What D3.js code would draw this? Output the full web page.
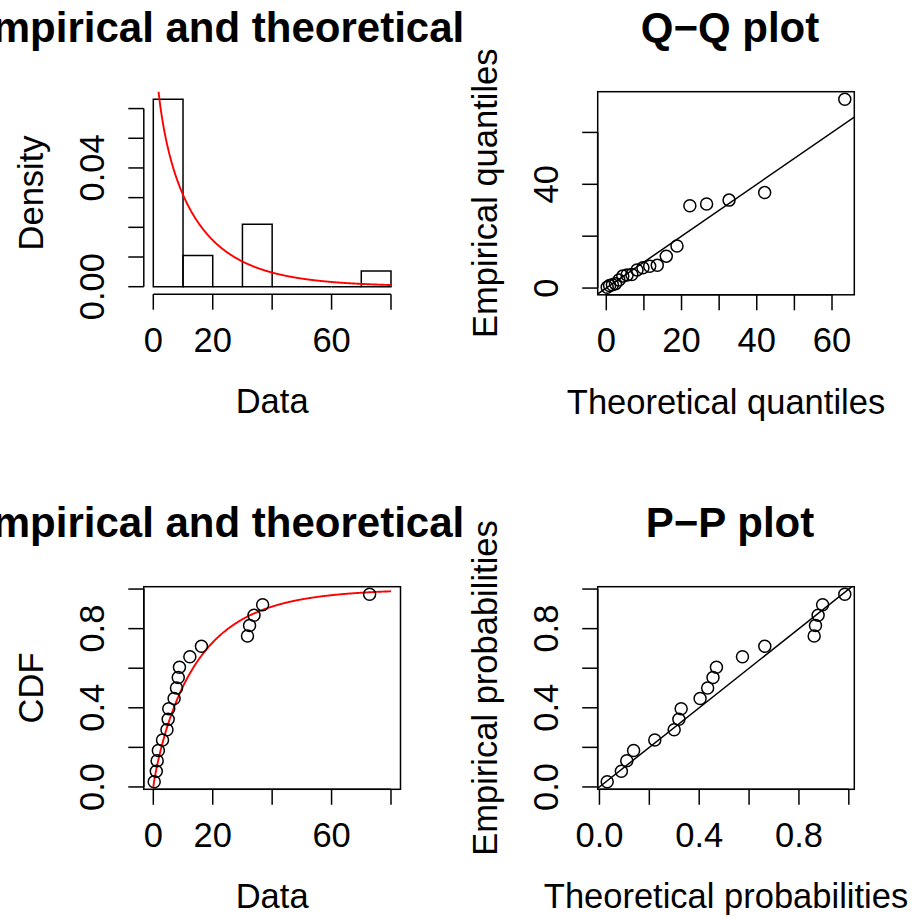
<!DOCTYPE html>
<html><head><meta charset="utf-8">
<script src="https://cdn.jsdelivr.net/npm/d3@7"></script>
<style>
body{margin:0;background:#fff}
svg{display:block}
text{font-family:"Liberation Sans",Arial,Helvetica,sans-serif;fill:#000}
</style>
</head><body>
<svg id="c" width="914" height="921"></svg>
<script>
// ---------------- data ----------------
const obs = [0.3, 1.0, 1.3, 1.7, 3.1, 4.6, 5.0, 5.2, 7.0, 7.8, 8.4, 8.8, 12.3, 16.2, 31.7, 32.4, 33.9, 36.8, 72.8];
const plotPositions = [0.026, 0.079, 0.132, 0.184, 0.237, 0.289, 0.342, 0.395, 0.447, 0.5,
                       0.553, 0.605, 0.658, 0.711, 0.763, 0.816, 0.868, 0.921, 0.974];
const weibullShape = 0.887;
const weibullScale = 14.73;
const histBreaks = [0, 10, 20, 30, 40, 50, 60, 70, 80];
const titles = ["Empirical and theoretical dens.", "Q\u2212Q plot", "Empirical and theoretical CDFs", "P\u2212P plot"];
const xTitles = ["Data", "Theoretical quantiles", "Data", "Theoretical probabilities"];
const yTitles = ["Density", "Empirical quantiles", "CDF", "Empirical probabilities"];
const densTicks = [0, 0.01, 0.02, 0.03, 0.04, 0.05, 0.06];
const densTickLabels = ["0.00", "", "", "", "0.04", "", ""];
const dataTicks = [0, 20, 40, 60, 80];
const dataTickLabels = ["0", "20", "", "60", ""];
const qqXTicks = [0, 10, 20, 30, 40, 50, 60];
const qqXTickLabels = ["0", "", "20", "", "40", "", "60"];
const qqYTicks = [0, 20, 40, 60];
const qqYTickLabels = ["0", "", "40", ""];
const probTicks = [0, 0.2, 0.4, 0.6, 0.8, 1.0];
const probTickLabels = ["0.0", "", "0.4", "", "0.8", ""];

// ---------------- model ----------------
const dW = x => (weibullShape / weibullScale) * Math.pow(x / weibullScale, weibullShape - 1) * Math.exp(-Math.pow(x / weibullScale, weibullShape));
const pW = x => 1 - Math.exp(-Math.pow(x / weibullScale, weibullShape));
const qW = p => weibullScale * Math.pow(-Math.log(1 - p), 1 / weibullShape);
const theoQ = plotPositions.map(qW);
const theoP = obs.map(pW);

// ---------------- layout ----------------
const svg = d3.select("#c");
const FS = 34.5, FT = 42, LW = 1.5, TL = 15.5;
const pad = ([a, b]) => [a - 0.04 * (b - a), b + 0.04 * (b - a)];
const regions = [
  {x0: 143.8, x1: 400.5, y0: 91.7, y1: 294.2, fx0: 0, fx1: 467, ty: 42, tdx: 3},
  {x0: 597.7, x1: 854.3, y0: 91.7, y1: 294.8, fx0: 467, fx1: 914, ty: 42, tdx: 4},
  {x0: 143.8, x1: 400.5, y0: 586.7, y1: 789.3, fx0: 0, fx1: 467, ty: 537, tdx: 3},
  {x0: 597.7, x1: 854.3, y0: 586.7, y1: 789.3, fx0: 467, fx1: 914, ty: 537, tdx: 4}
];
const defs = svg.append("defs");
regions.forEach((r, i) => {
  defs.append("clipPath").attr("id", "plot" + i).append("rect")
    .attr("x", r.x0).attr("y", r.y0).attr("width", r.x1 - r.x0).attr("height", r.y1 - r.y0);
  defs.append("clipPath").attr("id", "fig" + i).append("rect")
    .attr("x", r.fx0).attr("y", 0).attr("width", r.fx1 - r.fx0).attr("height", 921);
});

function scales(r, xd, yd) {
  return {x: d3.scaleLinear().domain(pad(xd)).range([r.x0, r.x1]),
          y: d3.scaleLinear().domain(pad(yd)).range([r.y1, r.y0])};
}
function bottomAxis(g, r, x, ticks, labels) {
  g.append("line").attr("x1", x(ticks[0])).attr("x2", x(ticks[ticks.length - 1]))
    .attr("y1", r.y1).attr("y2", r.y1).attr("stroke", "#000").attr("stroke-width", LW);
  g.selectAll(null).data(ticks).join("line")
    .attr("x1", d => x(d)).attr("x2", d => x(d)).attr("y1", r.y1).attr("y2", r.y1 + TL)
    .attr("stroke", "#000").attr("stroke-width", LW);
  g.selectAll(null).data(ticks.map((t, i) => [t, labels[i]]).filter(d => d[1] !== "")).join("text")
    .attr("x", d => x(d[0])).attr("y", r.y1 + 57.3).attr("text-anchor", "middle")
    .attr("font-size", FS).text(d => d[1]);
}
function leftAxis(g, r, y, ticks, labels) {
  g.append("line").attr("y1", y(ticks[0])).attr("y2", y(ticks[ticks.length - 1]))
    .attr("x1", r.x0).attr("x2", r.x0).attr("stroke", "#000").attr("stroke-width", LW);
  g.selectAll(null).data(ticks).join("line")
    .attr("y1", d => y(d)).attr("y2", d => y(d)).attr("x1", r.x0).attr("x2", r.x0 - TL)
    .attr("stroke", "#000").attr("stroke-width", LW);
  g.selectAll(null).data(ticks.map((t, i) => [t, labels[i]]).filter(d => d[1] !== "")).join("text")
    .attr("transform", d => `translate(${r.x0 - 40},${y(d[0])}) rotate(-90)`)
    .attr("text-anchor", "middle").attr("font-size", FS).text(d => d[1]);
}
function frame(g, r, i) {
  g.append("text").attr("clip-path", `url(#fig${i})`)
    .attr("x", (r.x0 + r.x1) / 2 + r.tdx).attr("y", r.ty).attr("text-anchor", "middle")
    .attr("font-size", FT).attr("font-weight", "bold").text(titles[i]);
  g.append("text").attr("x", (r.x0 + r.x1) / 2).attr("y", r.y1 + 119)
    .attr("text-anchor", "middle").attr("font-size", FS).text(xTitles[i]);
  g.append("text").attr("transform", `translate(${r.x0 - 100.8},${(r.y0 + r.y1) / 2}) rotate(-90)`)
    .attr("text-anchor", "middle").attr("font-size", FS).text(yTitles[i]);
}
function box(g, r) {
  g.append("rect").attr("x", r.x0).attr("y", r.y0).attr("width", r.x1 - r.x0).attr("height", r.y1 - r.y0)
    .attr("fill", "none").attr("stroke", "#000").attr("stroke-width", LW);
}
function points(g, x, y, xs, ys) {
  g.selectAll(null).data(xs.map((v, i) => [v, ys[i]])).join("circle")
    .attr("cx", d => x(d[0])).attr("cy", d => y(d[1])).attr("r", 6)
    .attr("fill", "none").attr("stroke", "#000").attr("stroke-width", LW);
}

// ---------------- panel 1: histogram + density ----------------
{
  const r = regions[0], g = svg.append("g");
  const bins = d3.bin().domain([histBreaks[0], histBreaks[histBreaks.length - 1]]).thresholds(histBreaks.slice(1, -1))(obs);
  const dens = bins.map(b => b.length / (obs.length * (b.x1 - b.x0)));
  const {x, y} = scales(r, [0, 80], [0, d3.max(dens)]);
  g.selectAll(null).data(bins).join("path")
    .attr("d", (b, i) => `M${x(b.x0)},${y(0)}V${y(dens[i])}H${x(b.x1)}V${y(0)}Z`)
    .attr("fill", "none").attr("stroke", "#000").attr("stroke-width", LW);
  const grid = d3.range(0.02, 80.001, 0.1);
  g.append("path").attr("clip-path", "url(#plot0)")
    .attr("d", d3.line().x(d => x(d)).y(d => y(dW(d)))(grid))
    .attr("fill", "none").attr("stroke", "#ff0000").attr("stroke-width", 1.9);
  bottomAxis(g, r, x, dataTicks, dataTickLabels);
  leftAxis(g, r, y, densTicks, densTickLabels);
  frame(g, r, 0);
}
// ---------------- panel 2: Q-Q ----------------
{
  const r = regions[1], g = svg.append("g");
  const {x, y} = scales(r, d3.extent(theoQ), d3.extent(obs));
  const xd = x.domain();
  g.append("line").attr("clip-path", "url(#plot1)")
    .attr("x1", x(xd[0] - 10)).attr("y1", y(xd[0] - 10)).attr("x2", x(xd[1] + 10)).attr("y2", y(xd[1] + 10))
    .attr("stroke", "#000").attr("stroke-width", LW);
  points(g, x, y, theoQ, obs);
  box(g, r);
  bottomAxis(g, r, x, qqXTicks, qqXTickLabels);
  leftAxis(g, r, y, qqYTicks, qqYTickLabels);
  frame(g, r, 1);
}
// ---------------- panel 3: CDF ----------------
{
  const r = regions[2], g = svg.append("g");
  const {x, y} = scales(r, [0, 80], d3.extent(plotPositions));
  const grid = d3.range(0, 80.001, 0.2);
  g.append("path").attr("clip-path", "url(#plot2)")
    .attr("d", d3.line().x(d => x(d)).y(d => y(pW(d)))(grid))
    .attr("fill", "none").attr("stroke", "#ff0000").attr("stroke-width", 1.9);
  points(g, x, y, obs, plotPositions);
  box(g, r);
  bottomAxis(g, r, x, dataTicks, dataTickLabels);
  leftAxis(g, r, y, probTicks, probTickLabels);
  frame(g, r, 2);
}
// ---------------- panel 4: P-P ----------------
{
  const r = regions[3], g = svg.append("g");
  const {x, y} = scales(r, d3.extent(theoP), d3.extent(plotPositions));
  g.append("line").attr("clip-path", "url(#plot3)")
    .attr("x1", x(-1)).attr("y1", y(-1)).attr("x2", x(2)).attr("y2", y(2))
    .attr("stroke", "#000").attr("stroke-width", LW);
  points(g, x, y, theoP, plotPositions);
  box(g, r);
  bottomAxis(g, r, x, probTicks, probTickLabels);
  leftAxis(g, r, y, probTicks, probTickLabels);
  frame(g, r, 3);
}
</script>
</body></html>
